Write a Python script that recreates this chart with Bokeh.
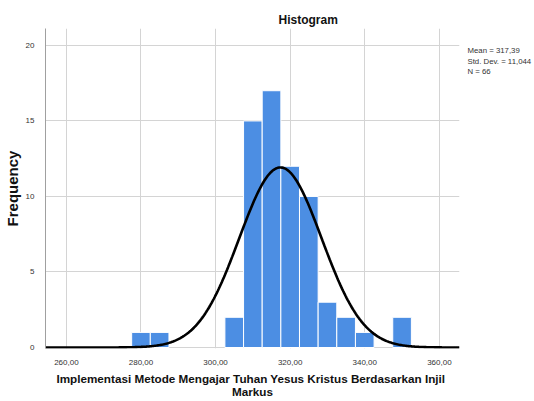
import numpy as np
from bokeh.plotting import figure
from bokeh.models import FixedTicker, Range1d, LinearAxis
from bokeh.embed import file_html
from bokeh.resources import INLINE

# ---- data ----
bin_left = [277.5, 282.5, 302.5, 307.5, 312.5, 317.5, 322.5, 327.5, 332.5, 337.5, 347.5]
bin_right = [282.5, 287.5, 307.5, 312.5, 317.5, 322.5, 327.5, 332.5, 337.5, 342.5, 352.5]
counts = [1, 1, 2, 15, 17, 12, 10, 3, 2, 1, 2]
mean = 317.39
std_dev = 11.044
n_total = 66
bin_width = 5.0
x_ticks = [260, 280, 300, 320, 340, 360]
x_tick_labels = ["260,00", "280,00", "300,00", "320,00", "340,00", "360,00"]
y_ticks = [0, 5, 10, 15, 20]
stats_lines = ["Mean = 317,39", "Std. Dev. = 11,044", "N = 66"]
title_text = "Histogram"
x_label_text = "Implementasi Metode Mengajar Tuhan Yesus Kristus  Berdasarkan Injil\nMarkus"
y_label_text = "Frequency"

X0, X1 = 254.4, 365.4
Y0, Y1 = -0.066, 21.12
stats_pos = [19.67, 18.94, 18.28]

p = figure(width=534, height=401, output_backend="svg", toolbar_location=None,
           x_range=Range1d(X0, X1), y_range=Range1d(Y0, Y1),
           min_border_left=43, min_border_right=72, min_border_top=28, min_border_bottom=52,
           title=title_text)
p.outline_line_color = None
p.background_fill_color = "white"
p.border_fill_color = "white"

# title
p.title.align = "left"
p.title.offset = 233
p.title.standoff = 4
p.title.text_font = "Liberation Sans"
p.title.text_font_size = "12px"
p.title.text_font_style = "bold"
p.title.text_color = "#111111"

# grid
p.xgrid.ticker = FixedTicker(ticks=x_ticks)
p.ygrid.ticker = FixedTicker(ticks=y_ticks)
p.xgrid.grid_line_color = "#d4d4d4"
p.ygrid.grid_line_color = "#d4d4d4"

# axes
p.xaxis.ticker = FixedTicker(ticks=x_ticks)
p.xaxis.major_label_overrides = {t: l for t, l in zip(x_ticks, x_tick_labels)}
p.yaxis.ticker = FixedTicker(ticks=y_ticks)
for ax in (p.xaxis[0], p.yaxis[0]):
    ax.major_tick_line_color = None
    ax.minor_tick_line_color = None
    ax.major_label_text_font = "Liberation Sans"
    ax.major_label_text_font_size = "8px"
    ax.major_label_text_color = "#333333"
    ax.axis_label_text_font = "Liberation Sans"
    ax.axis_label_text_font_style = "bold"
    ax.axis_label_text_color = "#111111"
p.xaxis.axis_line_color = None
p.yaxis.axis_line_color = "#a0a0a0"
p.xaxis.major_label_standoff = 5
p.yaxis.major_label_standoff = 5
p.xaxis.axis_label = x_label_text
p.xaxis.axis_label_text_font_size = "11.7px"
p.xaxis.axis_label_text_line_height = 1.05
p.xaxis.axis_label_standoff = 4
p.yaxis.axis_label = y_label_text
p.yaxis.axis_label_text_font_size = "15px"
p.yaxis.axis_label_text_line_height = 1.0
p.yaxis.axis_label_standoff = 2

# stats text as a right-side label axis
stats_axis = LinearAxis(ticker=FixedTicker(ticks=stats_pos),
                        major_label_overrides={t: s for t, s in zip(stats_pos, stats_lines)})
stats_axis.axis_line_color = None
stats_axis.major_tick_line_color = None
stats_axis.minor_tick_line_color = None
stats_axis.major_label_standoff = 2
stats_axis.major_label_text_font = "Liberation Sans"
stats_axis.major_label_text_font_size = "7.8px"
stats_axis.major_label_text_color = "#333333"
p.add_layout(stats_axis, "right")

# bars
p.quad(left=bin_left, right=bin_right, top=counts, bottom=0,
       fill_color="#4c8ee3", line_color="white", line_width=1)

# normal curve
xs = np.linspace(X0, X1, 400)
ys = n_total * bin_width * np.exp(-0.5 * ((xs - mean) / std_dev) ** 2) / (std_dev * np.sqrt(2 * np.pi))
p.line(xs, ys, line_color="black", line_width=2.6)

open("out.html", "w").write(file_html(p, INLINE))
